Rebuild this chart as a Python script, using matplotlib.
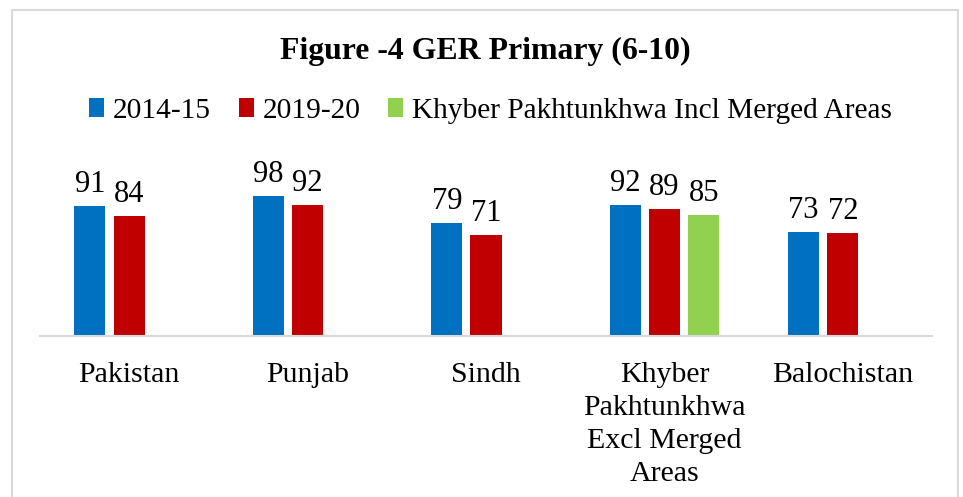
import matplotlib
matplotlib.use("Agg")
import matplotlib.pyplot as plt
from matplotlib.patches import Rectangle
import numpy as np

categories = ["Pakistan", "Punjab", "Sindh",
              "Khyber\nPakhtunkhwa\nExcl Merged\nAreas", "Balochistan"]
series_names = ["2014-15", "2019-20", "Khyber Pakhtunkhwa Incl Merged Areas"]
v2014 = [91, 98, 79, 92, 73]
v2019 = [84, 92, 71, 89, 72]
v_incl = [None, None, None, 85, None]
colors = ["#0070C0", "#C00000", "#92D050"]

plt.rcParams['font.family'] = ['Liberation Serif', 'DejaVu Serif']

fig = plt.figure(figsize=(9.63, 4.97), dpi=100)
W, H = 963, 497
# border
fig.patches.append(Rectangle((12 / W, -0.1), (958 - 12) / W, (H - 10) / H + 0.1,
                             transform=fig.transFigure, fill=False,
                             edgecolor="#D9D9D9", linewidth=1.5))

ax_left, ax_right = 40 / W, 932 / W
base_y = 336
top_y = base_y - 120 * (140 / 98)
ax = fig.add_axes([ax_left, (H - base_y) / H, ax_right - ax_left, (base_y - top_y) / H])

x = np.arange(len(categories))
slot = 0.22
bw = 0.174
all_series = [v2014, v2019, v_incl]
for i, (vals, c, name) in enumerate(zip(all_series, colors, series_names)):
    xs = [xx + (i - 1) * slot for xx, v in zip(x, vals) if v is not None]
    vs = [v for v in vals if v is not None]
    bars = ax.bar(xs, vs, width=bw, color=c, label=name)
    for b, v in zip(bars, vs):
        ax.annotate(f"{v}", (b.get_x() + b.get_width() / 2, v),
                    xytext=(0, 5), textcoords="offset points",
                    ha="center", va="bottom", fontsize=22, color="black")

ax.set_xlim(-0.5, len(categories) - 0.5)
ax.set_ylim(0, 120)
ax.set_yticks([])
ax.set_xticks(x)
ax.set_xticklabels(categories, fontsize=21.5, linespacing=1.34)
ax.tick_params(axis="x", length=0, pad=19)
for s in ["top", "right", "left"]:
    ax.spines[s].set_visible(False)
ax.spines["bottom"].set_color("#D9D9D9")
ax.spines["bottom"].set_linewidth(1.5)

fig.text(0.504, (H - 51) / H, "Figure -4 GER Primary (6-10)", ha="center", va="center",
         fontsize=22.9, fontweight="bold")

handles, labels = ax.get_legend_handles_labels()
fig.legend(handles, labels, loc="center", bbox_to_anchor=(0.5095, (H - 111) / H),
           ncol=3, frameon=False, fontsize=21.2, handlelength=0.5, handleheight=0.6,
           handletextpad=0.3, columnspacing=0.95)

fig.savefig("out.png", dpi=100)
